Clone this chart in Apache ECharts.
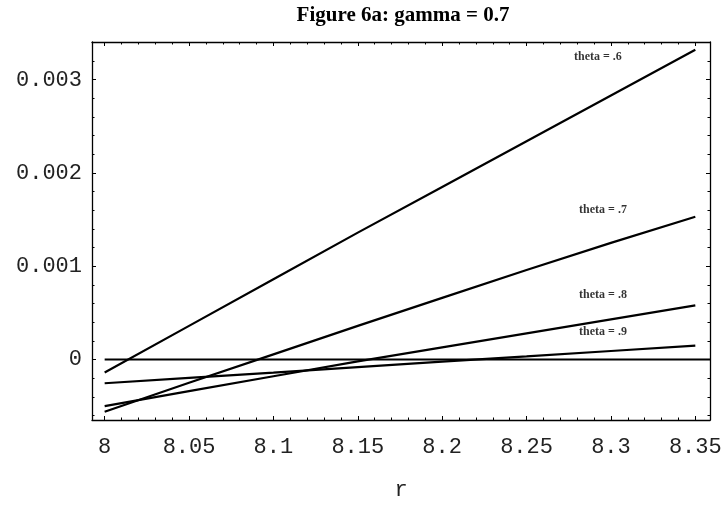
<!DOCTYPE html>
<html>
<head>
<meta charset="utf-8">
<script src="https://cdn.jsdelivr.net/npm/echarts@6/dist/echarts.min.js"></script>
<style>
  html, body { margin: 0; padding: 0; background: #fff; }
  #chart { width: 727px; height: 506px; }
</style>
</head>
<body>
<div id="chart"></div>
<script>
// ---- data ----
const rValues = [8, 8.05, 8.1, 8.15, 8.2, 8.25, 8.3, 8.35];
const theta6 = [-0.00014, 0.00036, 0.00086, 0.00136, 0.00185, 0.00234, 0.00283, 0.00332];
const theta7 = [-0.00056, -0.00025, 0.000055, 0.00036, 0.00066, 0.00096, 0.00125, 0.00153];
const theta8 = [-0.0005, -0.00034, -0.00018, -0.00002, 0.00013, 0.00028, 0.00043, 0.00058];
const theta9 = [-0.000255, -0.000197, -0.00014, -0.000082, -0.000024, 0.000033, 0.000091, 0.000149];
const seriesNames = ['theta = .6', 'theta = .7', 'theta = .8', 'theta = .9'];
const labelR = [8.2923, 8.2953, 8.2953, 8.2953];
const labelV = [0.00324, 0.0016, 0.000695, 0.000298];

const xTicks = [8, 8.05, 8.1, 8.15, 8.2, 8.25, 8.3, 8.35];
const xTickLabels = ['8', '8.05', '8.1', '8.15', '8.2', '8.25', '8.3', '8.35'];
const xMinorTicks = [8.01, 8.02, 8.03, 8.04, 8.06, 8.07, 8.08, 8.09, 8.11, 8.12, 8.13, 8.14,
  8.16, 8.17, 8.18, 8.19, 8.21, 8.22, 8.23, 8.24, 8.26, 8.27, 8.28, 8.29, 8.31, 8.32, 8.33, 8.34];
const yTicks = [0, 0.001, 0.002, 0.003];
const yTickLabels = ['0', '0.001', '0.002', '0.003'];
const yMinorTicks = [-0.0006, -0.0004, -0.0002, 0.0002, 0.0004, 0.0006, 0.0008, 0.0012, 0.0014,
  0.0016, 0.0018, 0.0022, 0.0024, 0.0026, 0.0028, 0.0032];

const xMin = 7.9925, xMax = 8.3587;
const yMin = -0.000649, yMax = 0.003404;

// ---- chart ----
const chart = echarts.init(document.getElementById('chart'));
const black = '#000';
const monoFont = '"Liberation Mono", "Courier New", monospace';
const serifFont = '"Liberation Serif", "Times New Roman", serif';

function xLabel(v) {
  for (let i = 0; i < xTicks.length; i++) if (Math.abs(v - xTicks[i]) < 1e-9) return xTickLabels[i];
  return '';
}
function yLabel(v) {
  for (let i = 0; i < yTicks.length; i++) if (Math.abs(v - yTicks[i]) < 1e-12) return yTickLabels[i];
  return '';
}

function axisBase(extra) {
  return Object.assign({
    type: 'value',
    splitLine: { show: false },
    minorTick: { show: false },
    axisLine: { show: false, onZero: false },
    axisLabel: { show: false },
    axisTick: { show: false }
  }, extra);
}

const xAxes = [
  axisBase({
    min: xMin, max: xMax, position: 'bottom',
    axisLine: { show: true, onZero: false, lineStyle: { color: black, width: 1.3 } },
    axisTick: { show: true, inside: true, length: 4, customValues: xTicks, lineStyle: { color: black, width: 1 } },
    axisLabel: { show: true, customValues: xTicks, formatter: xLabel, fontFamily: monoFont, fontSize: 22, color: '#222', margin: 16 },
    name: 'r', nameLocation: 'middle', nameGap: 59,
    nameTextStyle: { fontFamily: monoFont, fontSize: 22, color: '#222' }
  }),
  axisBase({
    min: xMin, max: xMax, position: 'bottom',
    axisTick: { show: true, inside: true, length: 2.5, customValues: xMinorTicks, lineStyle: { color: black, width: 1 } }
  }),
  axisBase({
    min: xMin, max: xMax, position: 'top',
    axisLine: { show: true, onZero: false, lineStyle: { color: black, width: 1.3 } },
    axisTick: { show: true, inside: true, length: 4, customValues: xTicks, lineStyle: { color: black, width: 1 } }
  }),
  axisBase({
    min: xMin, max: xMax, position: 'top',
    axisTick: { show: true, inside: true, length: 2.5, customValues: xMinorTicks, lineStyle: { color: black, width: 1 } }
  })
];

const yAxes = [
  axisBase({
    min: yMin, max: yMax, position: 'left',
    axisLine: { show: true, onZero: false, lineStyle: { color: black, width: 1.3 } },
    axisTick: { show: true, inside: true, length: 4, customValues: yTicks, lineStyle: { color: black, width: 1 } },
    axisLabel: { show: true, customValues: yTicks, formatter: yLabel, fontFamily: monoFont, fontSize: 22, color: '#222', margin: 10 }
  }),
  axisBase({
    min: yMin, max: yMax, position: 'left',
    axisTick: { show: true, inside: true, length: 2.5, customValues: yMinorTicks, lineStyle: { color: black, width: 1 } }
  }),
  axisBase({
    min: yMin, max: yMax, position: 'right',
    axisLine: { show: true, onZero: false, lineStyle: { color: black, width: 1.3 } },
    axisTick: { show: true, inside: true, length: 4, customValues: yTicks, lineStyle: { color: black, width: 1 } }
  }),
  axisBase({
    min: yMin, max: yMax, position: 'right',
    axisTick: { show: true, inside: true, length: 2.5, customValues: yMinorTicks, lineStyle: { color: black, width: 1 } }
  })
];

function curve(name, values) {
  return {
    name: name, type: 'line', xAxisIndex: 0, yAxisIndex: 0,
    data: rValues.map((r, i) => [r, values[i]]),
    showSymbol: false, symbol: 'none', smooth: false,
    lineStyle: { color: black, width: 2.2 },
    silent: true, z: 3
  };
}

const option = {
  animation: false,
  backgroundColor: '#fff',
  grid: { left: 92, top: 42, width: 618, height: 381, containLabel: false },
  graphic: [{
    type: 'text', x: 403, y: 16,
    style: {
      text: 'Figure 6a: gamma = 0.7',
      font: 'bold 21px ' + serifFont,
      fill: black, textAlign: 'center', textVerticalAlign: 'middle'
    }
  }],
  xAxis: xAxes,
  yAxis: yAxes,
  series: [
    {
      name: 'zero', type: 'line', xAxisIndex: 0, yAxisIndex: 0,
      data: [[rValues[0], 0], [xMax, 0]],
      showSymbol: false, symbol: 'none',
      lineStyle: { color: black, width: 2 }, silent: true, z: 2
    },
    curve(seriesNames[0], theta6),
    curve(seriesNames[1], theta7),
    curve(seriesNames[2], theta8),
    curve(seriesNames[3], theta9),
    {
      name: 'labels', type: 'scatter', xAxisIndex: 0, yAxisIndex: 0,
      symbolSize: 0, silent: true,
      data: seriesNames.map((n, i) => ({ name: n, value: [labelR[i], labelV[i]] })),
      label: {
        show: true, position: 'inside', formatter: p => p.name,
        fontFamily: serifFont, fontWeight: 'bold', fontSize: 12, color: black
      },
      z: 4
    }
  ]
};
chart.setOption(option);
</script>
</body>
</html>
